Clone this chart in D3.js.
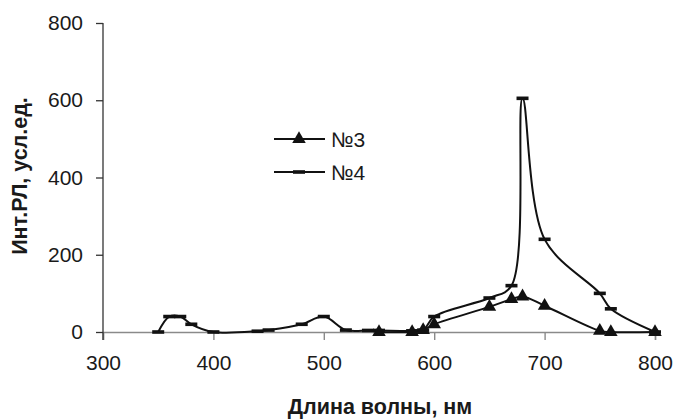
<!DOCTYPE html>
<html>
<head>
<meta charset="utf-8">
<script src="https://cdn.jsdelivr.net/npm/d3@7"></script>
<style>
  html, body { margin: 0; padding: 0; background: #fff; }
  svg { display: block; }
  text { font-family: "Liberation Sans", Arial, sans-serif; fill: #1a1a1a; }
</style>
</head>
<body>
<svg id="chart" width="674" height="420"></svg>
<script>
// Spectra: wavelength (nm) and relative luminescence intensity
const wl3 = [550, 580, 590, 600, 650, 670, 680, 700, 750, 760, 800];
const int3 = [0, 0, 5, 20, 65, 85, 92, 68, 3, 0, 0];

const wl4 = [350, 360, 370, 380, 400, 440, 450, 480, 500, 520, 540, 550, 580, 590, 600, 650, 670, 680, 700, 750, 760, 800];
const int4 = [0, 40, 40, 20, 0, 2, 5, 20, 40, 5, 4, 4, 3, 5, 40, 88, 120, 605, 240, 100, 60, 0];

const seriesNames = ["№3", "№4"];
const xTicks = [300, 400, 500, 600, 700, 800];
const yTicks = [0, 200, 400, 600, 800];
const xTitle = "Длина волны, нм";
const yTitle = "Инт.РЛ, усл.ед.";

const svg = d3.select("#chart");
const x = d3.scaleLinear().domain([300, 800]).range([103, 655]);
const y = d3.scaleLinear().domain([0, 800]).range([332, 23]);

// axes
const xAxis = svg.append("g")
  .attr("transform", `translate(0,${y(0)})`)
  .call(d3.axisBottom(x).tickValues(xTicks).tickSize(8).tickPadding(15).tickFormat(d3.format("d")));
xAxis.select(".domain").attr("stroke", "#8a8a8a").attr("stroke-width", 1.4);
xAxis.selectAll(".tick line").attr("stroke", "#8a8a8a").attr("stroke-width", 1.4);
xAxis.selectAll(".tick text").attr("font-size", 21).attr("font-family", "Liberation Sans, Arial, sans-serif").attr("fill", "#1a1a1a");

const yAxis = svg.append("g")
  .attr("transform", `translate(${x(300)},0)`)
  .call(d3.axisLeft(y).tickValues(yTicks).tickSize(7).tickPadding(13).tickFormat(d3.format("d")));
yAxis.select(".domain").attr("stroke", "#333").attr("stroke-width", 1.3).attr("d", `M0,${y(800)}V${y(0) + 8}`);
yAxis.selectAll(".tick line").attr("stroke", "#333").attr("stroke-width", 1.3);
yAxis.selectAll(".tick text").attr("font-size", 21).attr("font-family", "Liberation Sans, Arial, sans-serif").attr("fill", "#1a1a1a");

// axis titles
svg.append("text")
  .attr("x", 380).attr("y", 414)
  .attr("text-anchor", "middle")
  .attr("font-size", 21.5).attr("font-weight", "bold")
  .text(xTitle);
svg.append("text")
  .attr("transform", `translate(27,176) rotate(-90)`)
  .attr("text-anchor", "middle")
  .attr("font-size", 21.5).attr("font-weight", "bold")
  .text(yTitle);

// smoothed lines (centripetal Catmull-Rom)
const line = d3.line()
  .x(d => x(d[0])).y(d => y(d[1]))
  .curve(d3.curveCatmullRom.alpha(0.5));

const pts3 = wl3.map((w, i) => [w, int3[i]]);
const pts4 = wl4.map((w, i) => [w, int4[i]]);

svg.append("path").datum(pts4).attr("d", line)
  .attr("fill", "none").attr("stroke", "#111").attr("stroke-width", 2);
svg.append("path").datum(pts3).attr("d", line)
  .attr("fill", "none").attr("stroke", "#111").attr("stroke-width", 2);

const tri = d3.symbol().type(d3.symbolTriangle).size(80);

function dashMarkers(g, pts) {
  g.selectAll("rect").data(pts).join("rect")
    .attr("x", d => x(d[0]) - 6).attr("y", d => y(d[1]) - 1.8)
    .attr("width", 12).attr("height", 3.6)
    .attr("fill", "#111");
}
function triMarkers(g, pts) {
  g.selectAll("path").data(pts).join("path")
    .attr("d", tri)
    .attr("transform", d => `translate(${x(d[0])},${y(d[1])})`)
    .attr("fill", "#111");
}

dashMarkers(svg.append("g"), pts4);
triMarkers(svg.append("g"), pts3);

// legend
const legend = svg.append("g");
const legendRows = [{ name: seriesNames[0], ly: 139, kind: "tri" }, { name: seriesNames[1], ly: 172, kind: "dash" }];
legendRows.forEach(r => {
  legend.append("line").attr("x1", 274).attr("x2", 325).attr("y1", r.ly).attr("y2", r.ly)
    .attr("stroke", "#111").attr("stroke-width", 2);
  if (r.kind === "tri") {
    legend.append("path").attr("d", tri).attr("transform", `translate(299,${r.ly})`).attr("fill", "#111");
  } else {
    legend.append("rect").attr("x", 293).attr("y", r.ly - 1.8).attr("width", 12).attr("height", 3.6).attr("fill", "#111");
  }
  legend.append("text").attr("x", 331).attr("y", r.ly + 8).attr("font-size", 21).text(r.name);
});
</script>
</body>
</html>
